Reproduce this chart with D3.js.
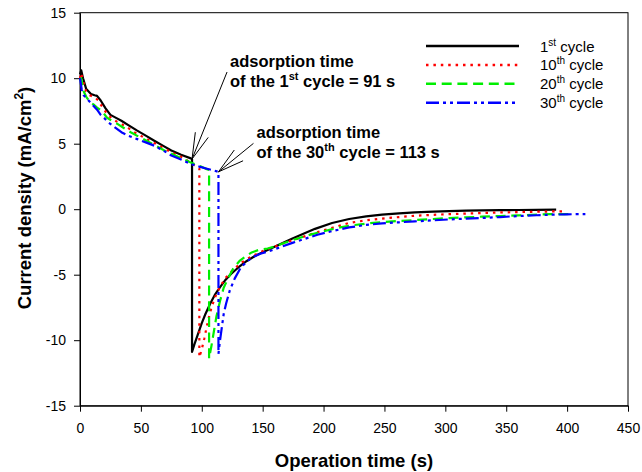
<!DOCTYPE html>
<html>
<head>
<meta charset="utf-8">
<script src="https://cdn.jsdelivr.net/npm/d3@7"></script>
<style>
  html, body { margin: 0; padding: 0; background: #fff; }
  svg { display: block; font-family: Arial, "Liberation Sans", sans-serif; }
</style>
</head>
<body>
<svg id="chart" width="642" height="472"></svg>
<script>
// ---- Data ----
const xTicks = [0, 50, 100, 150, 200, 250, 300, 350, 400, 450];
const yTicks = [-15, -10, -5, 0, 5, 10, 15];

const cycle1Time = [0, 1, 2.5, 5, 9, 12, 14, 17, 21, 25, 30, 34, 40, 47, 54, 61, 68, 75, 83, 91, 92, 92, 94, 97, 100, 103, 107, 111, 115, 119, 124, 130, 137, 144, 151, 158, 166, 174, 183, 193, 207, 221, 235, 248, 262, 275, 290, 303, 317, 330, 345, 360, 375, 391];
const cycle1Value = [10.3, 10.6, 10.0, 9.2, 8.8, 8.7, 8.65, 8.3, 7.7, 7.2, 6.95, 6.75, 6.4, 6.0, 5.62, 5.23, 4.85, 4.48, 4.15, 3.88, 3.83, -10.9, -10.3, -9.5, -8.7, -8.0, -7.2, -6.5, -5.95, -5.45, -4.95, -4.45, -3.95, -3.55, -3.25, -2.95, -2.6, -2.25, -1.9, -1.5, -1.05, -0.75, -0.55, -0.42, -0.32, -0.24, -0.18, -0.14, -0.11, -0.09, -0.07, -0.06, -0.05, -0.04];

const cycle10Time = [0, 1, 2.5, 5, 8, 12, 15, 19, 23, 27, 32, 38, 45, 52, 60, 67, 75, 83, 90, 95, 98, 98, 100, 102, 104, 106, 108, 111, 115, 120, 126, 133, 141, 150, 160, 170, 182, 195, 208, 221, 235, 248, 262, 275, 290, 303, 317, 330, 345, 360, 375, 390, 398];
const cycle10Value = [10.0, 10.4, 9.8, 9.0, 8.7, 8.55, 8.3, 7.7, 7.2, 6.85, 6.6, 6.3, 5.85, 5.5, 5.1, 4.75, 4.35, 4.0, 3.6, 3.3, 3.1, -11.3, -10.7, -9.9, -9.0, -8.2, -7.5, -6.7, -5.9, -5.2, -4.6, -4.05, -3.6, -3.2, -2.85, -2.5, -2.15, -1.75, -1.4, -1.05, -0.85, -0.72, -0.6, -0.5, -0.43, -0.38, -0.33, -0.29, -0.25, -0.22, -0.19, -0.17, -0.16];

const cycle20Time = [0, 1, 3, 5, 8, 11, 14, 18, 22, 26, 31, 36, 42, 48, 55, 62, 69, 76, 83, 90, 97, 103, 106, 106, 108, 110, 112, 115, 118, 122, 126, 131, 136, 141, 147, 154, 160, 167, 175, 185, 195, 208, 221, 235, 248, 262, 275, 290, 303, 317, 330, 345, 360, 375, 386, 398, 405];
const cycle20Value = [9.8, 10.0, 9.0, 8.6, 8.2, 8.0, 7.75, 7.5, 7.0, 6.75, 6.5, 6.2, 5.85, 5.55, 5.2, 4.85, 4.5, 4.2, 3.9, 3.6, 3.35, 3.1, 3.0, -11.4, -10.4, -9.3, -8.2, -7.0, -6.0, -5.2, -4.5, -3.95, -3.6, -3.3, -3.1, -3.0, -2.85, -2.6, -2.35, -2.05, -1.8, -1.5, -1.26, -1.1, -0.98, -0.9, -0.83, -0.75, -0.68, -0.62, -0.57, -0.52, -0.47, -0.42, -0.38, -0.37, -0.36];

const cycle30Time = [0, 0.5, 1.5, 3, 5, 8, 11, 14, 17, 20, 23, 28, 34, 40, 47, 54, 61, 68, 75, 83, 91, 98, 105, 110, 113.7, 113.7, 115, 116.5, 118, 120, 123, 127, 132, 137, 141, 148, 157, 166, 175, 185, 195, 208, 221, 235, 248, 262, 275, 290, 303, 317, 330, 345, 360, 375, 386, 400, 415];
const cycle30Value = [10.0, 9.7, 9.1, 8.7, 8.5, 8.2, 7.9, 7.6, 7.2, 6.95, 6.65, 6.3, 5.88, 5.6, 5.35, 5.1, 4.85, 4.5, 4.1, 3.8, 3.45, 3.25, 3.07, 2.95, 2.85, -11.05, -10.0, -9.0, -8.0, -7.2, -6.2, -5.3, -4.45, -4.0, -3.7, -3.4, -3.15, -2.85, -2.55, -2.25, -1.95, -1.65, -1.39, -1.2, -1.08, -1.0, -0.93, -0.85, -0.78, -0.72, -0.67, -0.6, -0.52, -0.46, -0.42, -0.39, -0.37];

const seriesNames = ["1", "10", "20", "30"];
const seriesSup = ["st", "th", "th", "th"];
const seriesColors = ["#000000", "#ff0000", "#00ee00", "#0000ff"];
const seriesDash = [null, "2.5,4.9", "10,5.7", "13,4,3,4,3,4"];
const seriesTimes = [cycle1Time, cycle10Time, cycle20Time, cycle30Time];
const seriesValues = [cycle1Value, cycle10Value, cycle20Value, cycle30Value];

// annotation anchor points (data) and texts
const annotations = [
  { t: 92, v: 3.83, line1: "adsorption time", pre: "of the 1", sup: "st", post: " cycle = 91 s", dx: 35, dy: -87, tx: 38, ty1: -92, ty2: -72 },
  { t: 113.7, v: 2.85, line1: "adsorption time", pre: "of the 30", sup: "th", post: " cycle = 113 s", dx: 35, dy: -28.5, tx: 38, ty1: -34, ty2: -14 }
];

// ---- Layout ----
const svg = d3.select("#chart");
const pLeft = 80, pRight = 628, pTop = 12.7, pBottom = 405.7;
const x = d3.scaleLinear().domain([0, 450]).range([pLeft, pRight]);
const y = d3.scaleLinear().domain([-15, 15]).range([pBottom, pTop]);
const font = 'Arial, "Liberation Sans", sans-serif';

// frame
svg.append("rect").attr("x", pLeft).attr("y", pTop)
  .attr("width", pRight - pLeft).attr("height", pBottom - pTop)
  .attr("fill", "none").attr("stroke", "#000").attr("stroke-width", 1);

// axes
const fmt = d => String(d);
const xAxis = svg.append("g").attr("transform", `translate(0,${pBottom})`)
  .call(d3.axisBottom(x).tickValues(xTicks).tickSize(6).tickSizeOuter(0).tickPadding(11.5).tickFormat(fmt));
const yAxis = svg.append("g").attr("transform", `translate(${pLeft},0)`)
  .call(d3.axisLeft(y).tickValues(yTicks).tickSize(6).tickSizeOuter(0).tickPadding(8).tickFormat(fmt));
[xAxis, yAxis].forEach(g => {
  g.selectAll("text").attr("font-size", 14).attr("font-family", font).attr("fill", "#000");
  g.selectAll("line").attr("stroke", "#000");
  g.select(".domain").attr("stroke", "#000");
});

// axis titles
svg.append("text").attr("x", (pLeft + pRight) / 2).attr("y", 467.3)
  .attr("text-anchor", "middle").attr("font-size", 18.5).attr("font-weight", "bold")
  .attr("font-family", font).text("Operation time (s)");

const yt = svg.append("text").attr("transform", `translate(31,198) rotate(-90)`)
  .attr("text-anchor", "middle").attr("font-size", 18.5).attr("font-weight", "bold")
  .attr("font-family", font);
yt.append("tspan").text("Current density (mA/cm");
yt.append("tspan").attr("font-size", 12).attr("dy", -8).text("2");
yt.append("tspan").attr("dy", 8).text(")");

// lines
const line = d3.line().x(d => x(d[0])).y(d => y(d[1]));
seriesTimes.forEach((ts, i) => {
  const pts = ts.map((t, j) => [t, seriesValues[i][j]]);
  const p = svg.append("path").datum(pts).attr("d", line)
    .attr("fill", "none").attr("stroke", seriesColors[i]).attr("stroke-width", 2.2)
    .attr("stroke-linejoin", "round");
  if (seriesDash[i]) p.attr("stroke-dasharray", seriesDash[i]);
});

// legend
const legX1 = 426, legX2 = 519, legTextX = 540, legY0 = 46, legDY = 18.9;
seriesNames.forEach((n, i) => {
  const yy = legY0 + i * legDY;
  const l = svg.append("line").attr("x1", legX1).attr("x2", legX2).attr("y1", yy).attr("y2", yy)
    .attr("stroke", seriesColors[i]).attr("stroke-width", 2.5);
  if (seriesDash[i]) l.attr("stroke-dasharray", seriesDash[i]);
  const tx = svg.append("text").attr("x", legTextX).attr("y", yy + 5.5)
    .attr("font-size", 15).attr("font-family", font);
  tx.append("tspan").text(n);
  tx.append("tspan").attr("font-size", 10).attr("dy", -6).text(seriesSup[i]);
  tx.append("tspan").attr("dy", 6).text(" cycle");
});

// annotations
annotations.forEach(a => {
  const px = x(a.t), py = y(a.v);
  const ex = px + a.dx, ey = py + a.dy;
  svg.append("line").attr("x1", px).attr("y1", py).attr("x2", ex).attr("y2", ey)
    .attr("stroke", "#000").attr("stroke-width", 1);
  const ang = Math.atan2(ey - py, ex - px);
  [-0.26, 0.26].forEach(da => {
    svg.append("line").attr("x1", px).attr("y1", py)
      .attr("x2", px + 27 * Math.cos(ang + da)).attr("y2", py + 27 * Math.sin(ang + da))
      .attr("stroke", "#000").attr("stroke-width", 1);
  });
  svg.append("text").attr("x", px + a.tx).attr("y", py + a.ty1)
    .attr("font-size", 16.5).attr("font-weight", "bold").attr("font-family", font).text(a.line1);
  const t2 = svg.append("text").attr("x", px + a.tx).attr("y", py + a.ty2)
    .attr("font-size", 16.5).attr("font-weight", "bold").attr("font-family", font);
  t2.append("tspan").text(a.pre);
  t2.append("tspan").attr("font-size", 11).attr("dy", -7).text(a.sup);
  t2.append("tspan").attr("dy", 7).text(a.post);
});
</script>
</body>
</html>
